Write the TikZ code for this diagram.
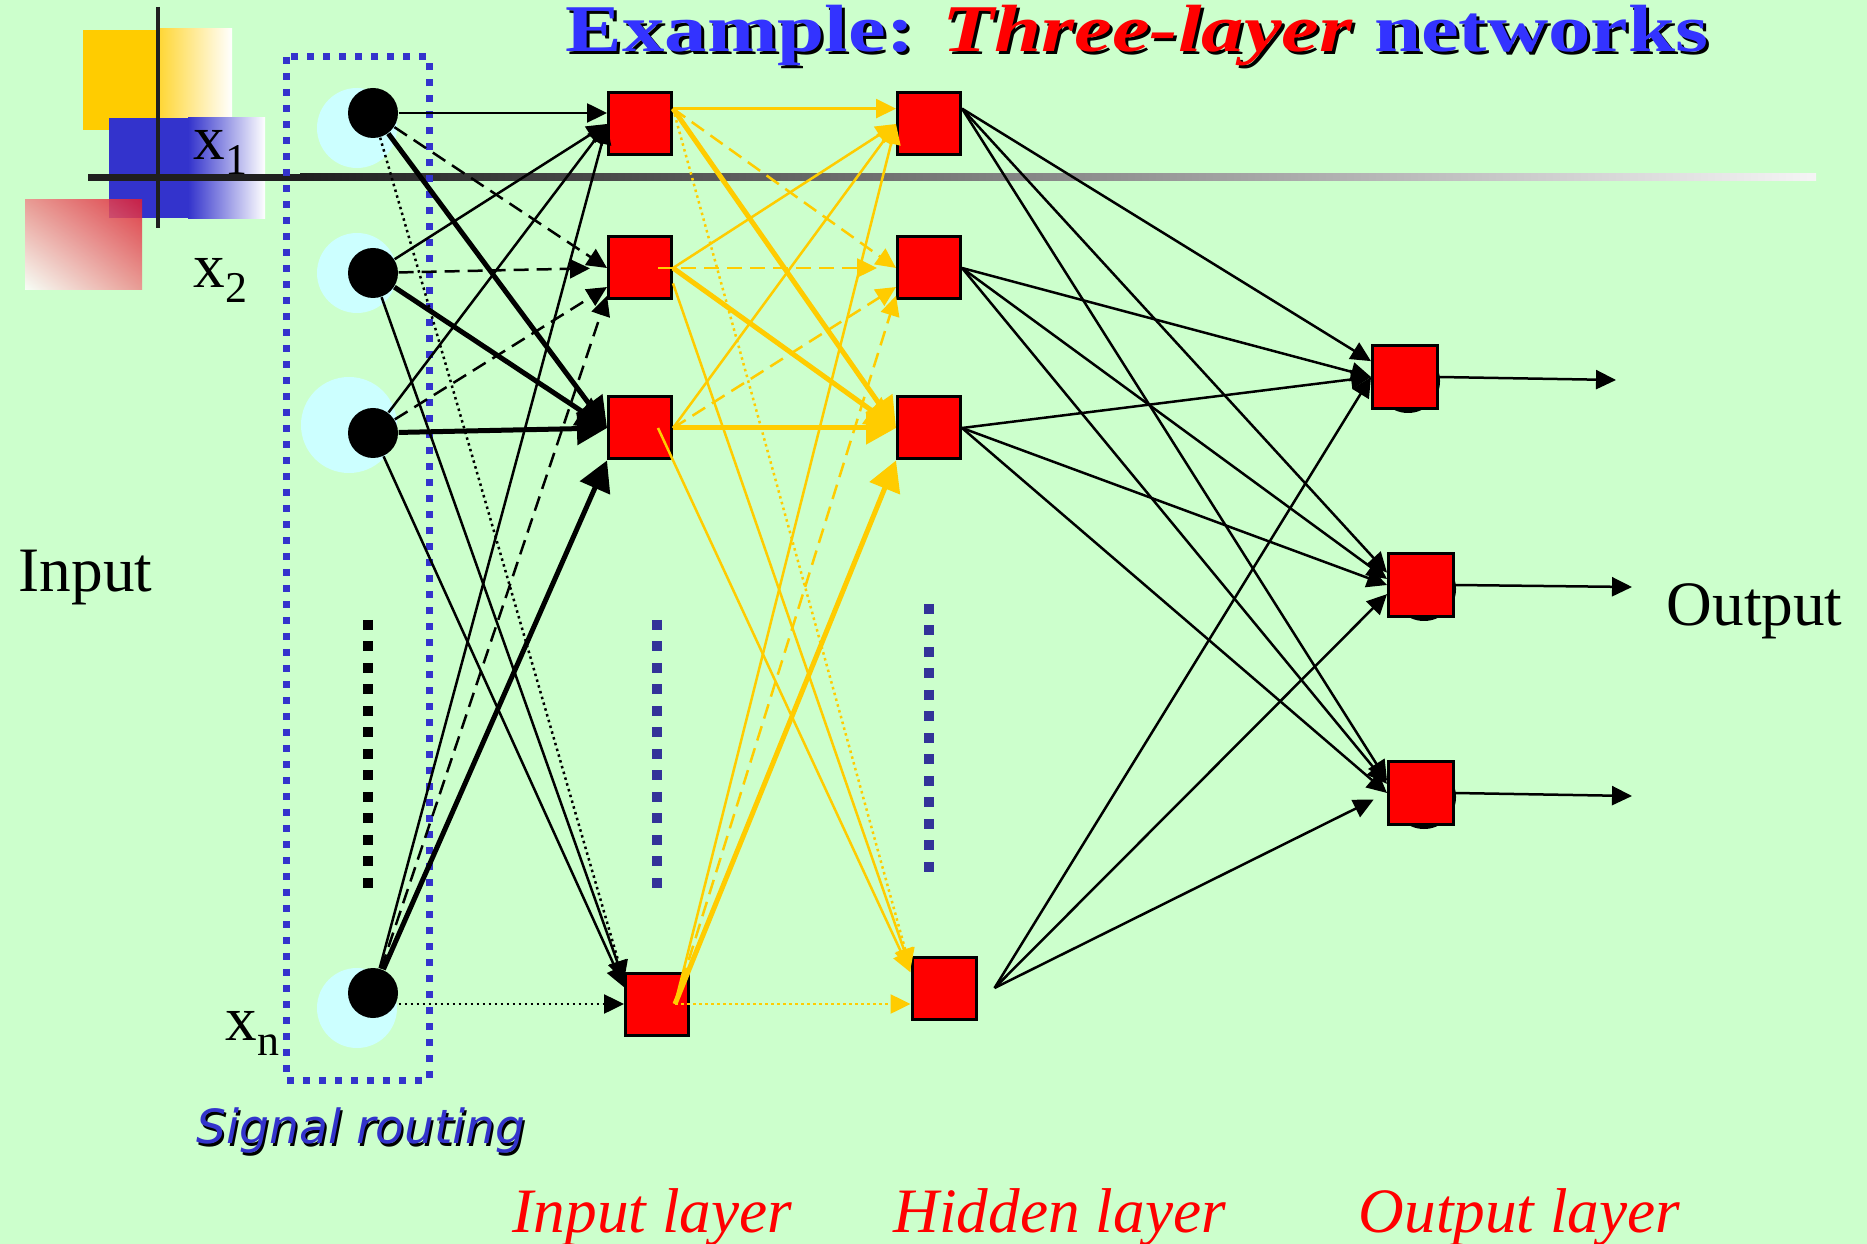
\documentclass[tikz,border=0pt]{standalone}
\usepackage{fontspec}
\setmainfont{Liberation Serif}
\newfontfamily\routefont{DejaVu Sans}
\usepackage{graphicx}
\usepackage{tikz}
\usetikzlibrary{arrows.meta,calc,shadings}
\definecolor{bggreen}{HTML}{CCFFCC}
\definecolor{glowcyan}{HTML}{CCFFFF}
\definecolor{titleblue}{HTML}{3333FF}
\definecolor{routeblue}{HTML}{3333CC}
\definecolor{dotblue}{HTML}{333399}
\definecolor{linkgold}{HTML}{FFCC00}
\definecolor{decored}{RGB}{225,30,50}
\definecolor{decopink}{RGB}{238,140,140}
\newcommand{\lowsub}[1]{\raisebox{-1.5mm}{\fontsize{12.5}{13}\selectfont #1}}

\begin{document}
\begin{tikzpicture}[x=0.1mm, y=-0.1mm,
    neuron/.style={circle, fill=black, minimum size=5mm, inner sep=0pt},
    unit/.style={rectangle, draw=black, line width=0.3mm, fill=red, minimum width=6.3mm, minimum height=6.2mm, inner sep=0pt},
    thinlink/.style={line width=0.25mm, -{Triangle[length=2mm,width=1.9mm]}},
    thicklink/.style={line width=0.5mm, -{Triangle[length=3mm,width=3.2mm]}},
    dashlink/.style={line width=0.25mm, dash pattern=on 1.5mm off 0.8mm, -{Triangle[length=2mm,width=1.9mm]}},
    dotlink/.style={line width=0.25mm, dash pattern=on 0.25mm off 0.35mm, -{Triangle[length=2mm,width=1.9mm]}},
    vdots/.style={line width=1.05mm, dash pattern=on 1mm off 1.15mm},
    txt/.style={anchor=base west, inner sep=0pt, font=\fontsize{18}{20}\selectfont}]
    \useasboundingbox (0,0) rectangle (1867,1244);
    \fill[bggreen] (0,0) rectangle (1867,1244);
    %%Corner decoration
    \fill[linkgold] (83,30) rectangle (158,130);
    \shade[left color=linkgold!80!white, right color=white] (158,29) rectangle (232,130);
    \fill[routeblue] (109,118) rectangle (188,218);
    \shade[left color=routeblue, right color=white] (188,118) rectangle (265,219);
    \shade[upper right=decored, upper left=decopink, lower right=decopink, lower left=white, opacity=0.85] (25,200) rectangle (142,290);
    \fill[black!88] (88,174) rectangle (300,181);
    \shade[left color=black!88, middle color=black!32, right color=black!4] (300,174) rectangle (1816,181);
    \draw[line width=0.45mm, black!88] (158,7) -- (158,228);
    %%Signal routing box
    \draw[routeblue, line width=0.7mm, dash pattern=on 0.7mm off 0.9mm] (286,57) rectangle (429,1080);
    %%Input neurons
    \fill[glowcyan] (357,128) circle (40);
    \fill[glowcyan] (357,273) circle (40);
    \fill[glowcyan] (349,425) circle (48);
    \fill[glowcyan] (357,1008) circle (40);
    \node[neuron] (c1) at (373,113) {};
    \node[neuron] (c2) at (373,273) {};
    \node[neuron] (c3) at (373,433) {};
    \node[neuron] (cn) at (373,993) {};
    %%Layer units
    \node[unit] (i1) at (640,124) {};
    \node[unit] (i2) at (640,268) {};
    \node[unit] (i3) at (640,428) {};
    \node[unit] (i4) at (657,1004) {};
    \node[unit] (h1) at (929,124) {};
    \node[unit] (h2) at (929,268) {};
    \node[unit] (h3) at (929,428) {};
    \node[unit, minimum width=6.4mm] (h4) at (944,988) {};
    \fill (1408,381) circle (32);
    \fill (1424,589) circle (32);
    \fill (1424,797) circle (32);
    \node[unit, minimum width=6.5mm, minimum height=6.3mm] (o1) at (1405,377) {};
    \node[unit, minimum width=6.5mm, minimum height=6.3mm] (o2) at (1421,585) {};
    \node[unit, minimum width=6.5mm, minimum height=6.3mm] (o3) at (1421,793) {};
    \coordinate (i4out) at ($(i4.east)+(-15,0)$);
    \coordinate (h4out) at ($(h4.east)+(17,0)$);
    \coordinate (out1) at (1616,380);
    \coordinate (out2) at (1632,587);
    \coordinate (out3) at (1632,796);
    %%Vertical dots
    \draw[vdots] (368,620) -- (368,890);
    \draw[vdots, dotblue] (657,620) -- (657,890);
    \draw[vdots, dotblue] (929,604) -- (929,874);
    %%Input to input layer
    \draw[thinlink] (c1.east) -- (c1.east -| i1.west);
    \draw[dashlink] (c1) -- (i2.west);
    \draw[thicklink] (c1) -- (i3.west);
    \draw[dotlink] (c1) -- (i4.145);
    \draw[thinlink] (c2) -- (i1.west);
    \draw[dashlink, shorten >=1.7mm] (c2) -- (i2.west);
    \draw[thicklink] (c2) -- (i3.west);
    \draw[thinlink] (c2) -- (i4.145);
    \draw[thinlink] (c3) -- (i1.west);
    \draw[dashlink] (c3) -- (i2.210);
    \draw[thicklink] (c3) -- (i3.west);
    \draw[thinlink] (c3) -- (i4.153);
    \draw[thinlink] (cn) -- (i1.west);
    \draw[dashlink] (cn) -- (i2.220);
    \draw[thicklink] (cn) -- (i3.south west);
    \draw[dotlink] (cn.east |- i4.west) -- (i4.west);
    %%Input layer to hidden layer
    \draw[thinlink, linkgold] (i1.25) -- (i1.25 -| h1.west);
    \draw[dashlink, linkgold] (i1.25) -- (h2.west);
    \draw[thicklink, linkgold] (i1.25) -- (h3.west);
    \draw[dotlink, linkgold] (i1.25) -- (h4.150);
    \draw[thinlink, linkgold] (i2.east) -- (h1.west);
    \draw[dashlink, linkgold, shorten >=1.9mm] ($(i2.east)+(-15,0)$) -- (h2.west);
    \draw[thicklink, linkgold] (i2.east) -- (h3.west);
    \draw[thinlink, linkgold] (i2.335) -- (h4.150);
    \draw[thinlink, linkgold] (i3.east) -- (h1.west);
    \draw[dashlink, linkgold] (i3.east) -- (h2.210);
    \draw[thicklink, linkgold] (i3.east) -- (h3.west);
    \draw[thinlink, linkgold] ($(i3.east)+(-15,0)$) -- (h4.155);
    \draw[thinlink, linkgold] (i4out) -- (h1.west);
    \draw[dashlink, linkgold] (i4out) -- (h2.220);
    \draw[thicklink, linkgold] (i4out) -- (h3.south west);
    \draw[dotlink, linkgold] (i4out) -- (i4out -| h4.west);
    %%Hidden layer to output layer
    \draw[thinlink] (h1.25) -- (o1.155);
    \draw[thinlink] (h1.25) -- (o2.160);
    \draw[thinlink] (h1.25) -- (o3.160);
    \draw[thinlink] (h2.east) -- (o1.west);
    \draw[thinlink] (h2.east) -- (o2.170);
    \draw[thinlink] (h2.east) -- (o3.165);
    \draw[thinlink] (h3.east) -- (o1.west);
    \draw[thinlink] (h3.east) -- (o2.west);
    \draw[thinlink] (h3.east) -- (o3.west);
    \draw[thinlink] (h4out) -- (o1.west);
    \draw[thinlink] (h4out) -- (o2.195);
    \draw[thinlink, shorten >=1.5mm] (h4out) -- (o3.west);
    %%Outputs
    \draw[thinlink] (o1.east) -- (out1);
    \draw[thinlink] (o2.east) -- (out2);
    \draw[thinlink] (o3.east) -- (out3);
    %%Texts
    \node[anchor=base west, inner sep=0pt, text=black] (titleshadow) at (568,55)
        {\bfseries\fontsize{19}{22}\selectfont\scalebox{1.27}[1]{Example: \textit{Three-layer} networks}};
    \node[anchor=base west, inner sep=0pt, text=titleblue] (title) at (565,52)
        {\bfseries\fontsize{19}{22}\selectfont\scalebox{1.27}[1]{Example: \textcolor{red}{\textit{Three-layer}} networks}};
    \node[txt] (lx1) at (193,160) {x\lowsub{1}};
    \node[txt] (lx2) at (193,288) {x\lowsub{2}};
    \node[txt] (lxn) at (225,1040) {x\lowsub{n}};
    \node[txt] (linput) at (18,592) {Input};
    \node[txt] (loutput) at (1666,625) {Output};
    \node[anchor=base west, inner sep=0pt, text=black] (routeshadow) at (198,1146)
        {\routefont\itshape\fontsize{13.4}{15}\selectfont Signal routing};
    \node[anchor=base west, inner sep=0pt, text=routeblue] (route) at (196,1143)
        {\routefont\itshape\fontsize{13.4}{15}\selectfont Signal routing};
    \node[txt, text=red, font=\fontsize{18}{20}\selectfont\itshape] (linlayer) at (512,1232) {Input layer};
    \node[txt, text=red, font=\fontsize{18}{20}\selectfont\itshape] (lhidlayer) at (893,1232) {Hidden layer};
    \node[txt, text=red, font=\fontsize{18}{20}\selectfont\itshape] (loutlayer) at (1358,1232) {Output layer};
\end{tikzpicture}
\end{document}
